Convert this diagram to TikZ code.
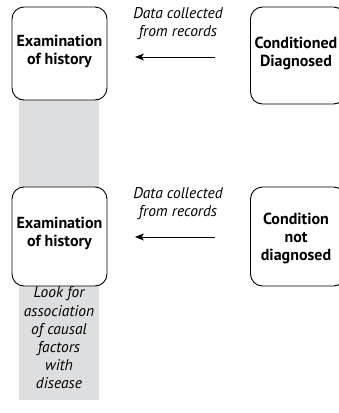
\documentclass[tikz,border=0pt]{standalone}
\usepackage{fontspec}
\setmainfont{PT Sans}
\usetikzlibrary{arrows.meta}
\definecolor{barGray}{RGB}{221,222,224}
\tikzset{
  stagebox/.style={draw=black, line width=0.9pt, rounded corners=12pt, fill=white,
    minimum width=95pt, inner sep=0pt},
  boxtext/.style={align=center, inner sep=0pt,
    font=\fontsize{16}{17.5}\selectfont\bfseries},
  notetext/.style={align=center, inner sep=0pt,
    font=\fontsize{15.5}{18}\selectfont\itshape},
  flow/.style={line width=0.9pt, -{Stealth[length=9pt,width=7pt,inset=2.5pt]}}
}
\begin{document}
\begin{tikzpicture}[x=1pt,y=-1pt]
  \useasboundingbox (0,0) rectangle (339,413);
  \clip (0,0) rectangle (339,413);
  % shaded column under the history boxes
  \fill[barGray] (19,60) rectangle (99,400);

  % upper row: diagnosed cases
  \node[stagebox, minimum height=93pt] (hist1) at (59.5,53.5) {};
  \node[boxtext] (hist1t) at ([yshift=2pt]hist1.center) {Examination\\of history};
  \node[stagebox, minimum height=97pt] (diag1) at (298,55.5) {};
  \node[boxtext] (diag1t) at ([xshift=-2pt,yshift=2pt]diag1.center) {Conditioned\\Diagnosed};
  \node[notetext] (note1) at (178,24) {Data collected\\from records};
  \coordinate (a1s) at (215,57);
  \coordinate (a1e) at (135,57);
  \draw[flow] (a1s) -- (a1e);

  % lower row: undiagnosed cases
  \node[stagebox, minimum height=99pt] (hist2) at (59.5,236.5) {};
  \node[boxtext] (hist2t) at ([yshift=3pt]hist2.center) {Examination\\of history};
  \node[stagebox, minimum height=99pt] (diag2) at (298,236.5) {};
  \node[boxtext, font=\fontsize{16}{18}\selectfont\bfseries] (diag2t)
    at ([xshift=-2pt,yshift=-2pt]diag2.center) {Condition\\not\\diagnosed};
  \node[notetext] (note2) at (178,204) {Data collected\\from records};
  \coordinate (a2s) at (215,237);
  \coordinate (a2e) at (135,237);
  \draw[flow] (a2s) -- (a2e);

  % caption inside the shaded column
  \node[notetext, font=\fontsize{15.5}{18.2}\selectfont\itshape] (look) at (59,338)
    {Look for\\association\\of causal\\factors\\with\\disease};
\end{tikzpicture}
\end{document}
